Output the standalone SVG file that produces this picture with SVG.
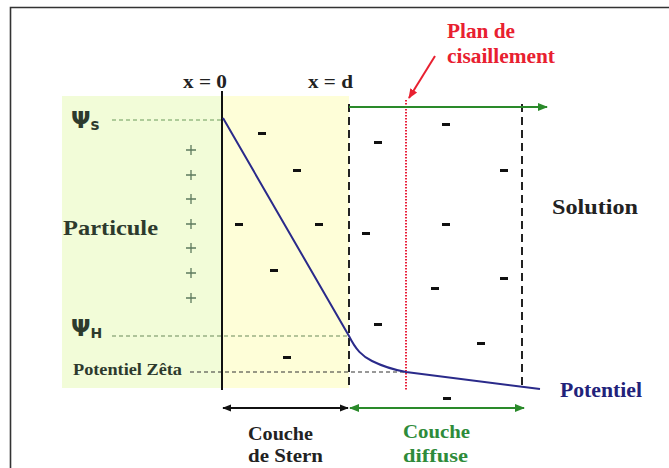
<svg xmlns="http://www.w3.org/2000/svg" width="669" height="468" viewBox="0 0 669 468">
<defs>
<style>
.b{font-family:"Liberation Serif",serif;font-weight:bold}
.psi{font-family:"DejaVu Sans","Liberation Sans",sans-serif;fill:#2d3a2d;font-weight:bold}
.m{fill:#111}
.p{stroke:#5d7a5d;stroke-width:1.3}
</style>
<marker id="ak" viewBox="0 0 10 10" refX="9" refY="5" markerWidth="9" markerHeight="9" orient="auto-start-reverse" markerUnits="userSpaceOnUse"><path d="M0,1 L10,5 L0,9 Z" fill="#111"/></marker>
<marker id="ag" viewBox="0 0 10 10" refX="9" refY="5" markerWidth="10" markerHeight="10" orient="auto-start-reverse" markerUnits="userSpaceOnUse"><path d="M0,1 L10,5 L0,9 Z" fill="#2a8a2a"/></marker>
<marker id="ar" viewBox="0 0 10 10" refX="9" refY="5" markerWidth="10" markerHeight="10" orient="auto" markerUnits="userSpaceOnUse"><path d="M0,1 L10,5 L0,9 Z" fill="#e82030"/></marker>
</defs>
<rect width="669" height="468" fill="#fff"/>
<path d="M10.5,468 V7.5 H669" fill="none" stroke="#333" stroke-width="1.6"/>
<g id="regions">
<rect x="62" y="96" width="160" height="292" fill="#f2fcd8"/>
<rect x="222" y="96" width="127" height="292" fill="#fefed8"/>
</g>
<g id="particule">
<text class="b" x="63" y="235" font-size="22" fill="#2d3a2d" textLength="95" lengthAdjust="spacingAndGlyphs">Particule</text>
<g class="p">
<path d="M186,150h10M191,145v10"/>
<path d="M186,175h10M191,170v10"/>
<path d="M186,199h10M191,194v10"/>
<path d="M186,224h10M191,219v10"/>
<path d="M186,248h10M191,243v10"/>
<path d="M186,273h10M191,268v10"/>
<path d="M186,298h10M191,293v10"/>
</g>
</g>
<g id="labels-left">
<text class="psi" x="71" y="128" font-size="23">Ψ<tspan font-size="15" dy="2">s</tspan></text>
<text class="psi" x="71" y="336" font-size="23">Ψ<tspan font-size="14" dy="2">H</tspan></text>
<text class="b" x="73" y="375" font-size="16" fill="#2d3a2d" textLength="109" lengthAdjust="spacingAndGlyphs">Potentiel Zêta</text>
</g>
<g id="minus" class="m">
<rect x="258" y="132" width="8" height="3"/>
<rect x="293" y="169" width="8" height="3"/>
<rect x="235" y="223" width="8" height="3"/>
<rect x="315" y="223" width="8" height="3"/>
<rect x="270" y="269" width="8" height="3"/>
<rect x="283" y="356" width="8" height="3"/>
<rect x="374" y="141" width="8" height="3"/>
<rect x="442" y="123" width="8" height="3"/>
<rect x="500" y="169" width="8" height="3"/>
<rect x="362" y="232" width="8" height="3"/>
<rect x="442" y="223" width="8" height="3"/>
<rect x="500" y="277" width="8" height="3"/>
<rect x="431" y="287" width="8" height="3"/>
<rect x="374" y="323" width="8" height="3"/>
<rect x="477" y="342" width="8" height="3"/>
<rect x="443" y="397" width="8" height="3"/>
</g>
<g id="connectors">
<path d="M112,120H222" stroke="#6a9a5a" stroke-width="1.2" stroke-dasharray="4,3"/>
<path d="M112,336H349" stroke="#6a8a5a" stroke-width="1.2" stroke-dasharray="4,3"/>
<path d="M190,372H406" stroke="#333" stroke-width="1.2" stroke-dasharray="4,3"/>
<path d="M222,91V390" stroke="#111" stroke-width="2"/>
<path d="M349,104V390" stroke="#222" stroke-width="2" stroke-dasharray="8,5"/>
<path d="M522,104V390" stroke="#222" stroke-width="2" stroke-dasharray="8,5"/>
<path d="M406,100V390" stroke="#e8203a" stroke-width="2" stroke-dasharray="1.5,1.5"/>
<path d="M349,107H547" stroke="#2a8a2a" stroke-width="2" marker-end="url(#ag)"/>
<path d="M435,56L409,98" stroke="#e82030" stroke-width="2" marker-end="url(#ar)"/>
<path d="M223,118L349,336C356,350 362,356 372,361C384,367 395,370 406,372L540,389" fill="none" stroke="#2a2a8a" stroke-width="2"/>
<path d="M223,408H348" stroke="#111" stroke-width="1.8" marker-start="url(#ak)" marker-end="url(#ak)"/>
<path d="M350,408H524" stroke="#2a8a2a" stroke-width="1.8" marker-start="url(#ag)" marker-end="url(#ag)"/>
</g>
<g id="top-labels">
<text class="b" x="183" y="88" font-size="19" fill="#222" textLength="44" lengthAdjust="spacingAndGlyphs">x = 0</text>
<text class="b" x="308" y="88" font-size="19" fill="#222" textLength="45" lengthAdjust="spacingAndGlyphs">x = d</text>
<text class="b" x="447" y="38" font-size="20" fill="#e82030" textLength="68" lengthAdjust="spacingAndGlyphs">Plan de</text>
<text class="b" x="447" y="63" font-size="20" fill="#e82030" textLength="108" lengthAdjust="spacingAndGlyphs">cisaillement</text>
</g>
<g id="right-labels">
<text class="b" x="552" y="214" font-size="20" fill="#222" textLength="86" lengthAdjust="spacingAndGlyphs">Solution</text>
<text class="b" x="560" y="397" font-size="20" fill="#22227a" textLength="82" lengthAdjust="spacingAndGlyphs">Potentiel</text>
</g>
<g id="bottom-labels">
<text class="b" x="248" y="440" font-size="19" fill="#222" textLength="65" lengthAdjust="spacingAndGlyphs">Couche</text>
<text class="b" x="248" y="462" font-size="19" fill="#222" textLength="75" lengthAdjust="spacingAndGlyphs">de Stern</text>
<text class="b" x="403" y="438" font-size="19" fill="#2e8b3a" textLength="67" lengthAdjust="spacingAndGlyphs">Couche</text>
<text class="b" x="403" y="462" font-size="19" fill="#2e8b3a" textLength="65" lengthAdjust="spacingAndGlyphs">diffuse</text>
</g>
</svg>
